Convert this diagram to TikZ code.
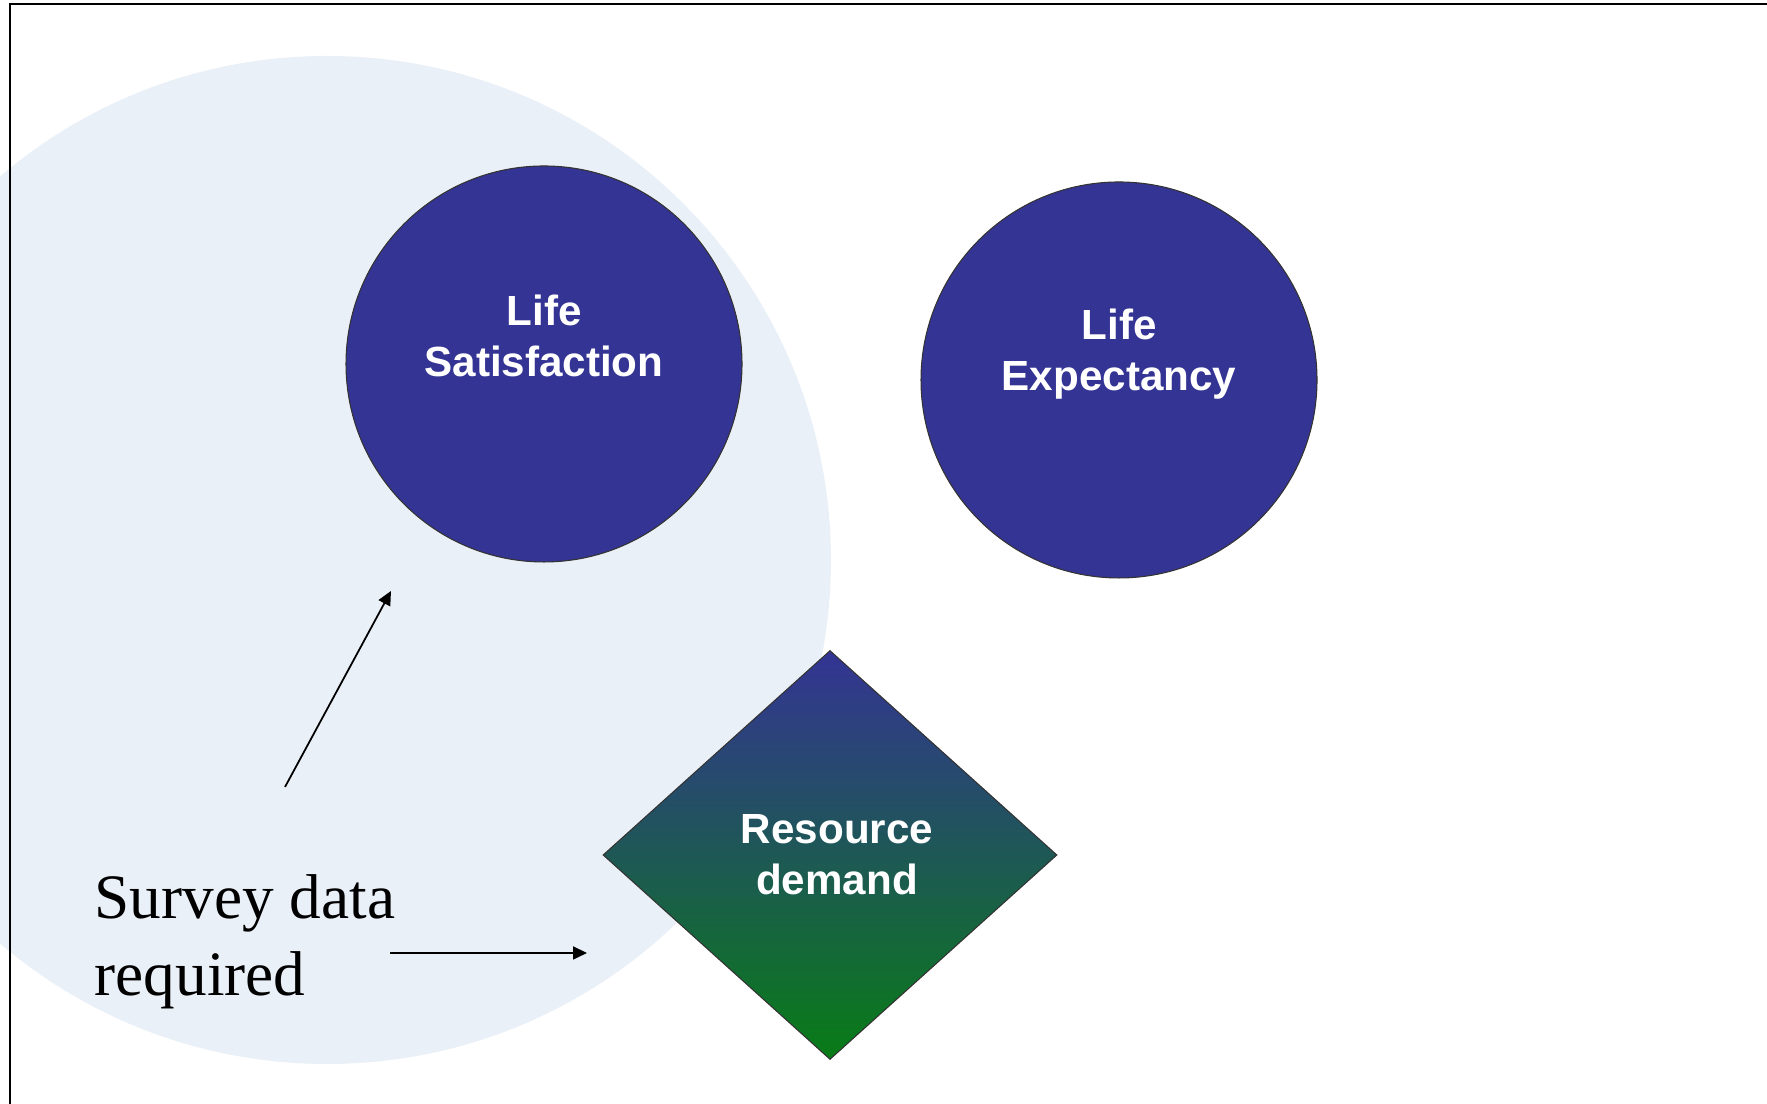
\documentclass[tikz,border=0pt]{standalone}
\usepackage{fontspec}
\setmainfont{Liberation Serif}
\setsansfont{Liberation Sans}
\usepackage{tikz}
\usetikzlibrary{shapes.geometric,arrows.meta}
\definecolor{lsnavy}{RGB}{52,52,148}
\definecolor{lsteal}{RGB}{38,98,114}
\definecolor{lsgreen}{RGB}{8,124,22}
\definecolor{lspale}{RGB}{234,240,247}

\tikzset{
  blob/.style={circle, draw=black!80, line width=0.3pt, fill=lsnavy, minimum size=3.96cm},
  lbl/.style={text=white, align=center, font=\sffamily\bfseries\fontsize{12}{14.5}\selectfont},
  arr/.style={-{Triangle[length=0.14cm,width=0.13cm]}, line width=0.5pt}
}

\begin{document}
\begin{tikzpicture}
\useasboundingbox (0,0) rectangle (17.67,11.04);
\begin{scope}
\clip (0,0) rectangle (17.67,11.04);
\fill[lspale] (3.27,5.44) circle (5.04);
\end{scope}
\draw[line width=0.6pt] (0.10,0) -- (0.10,11.00) -- (17.67,11.00);
\node[blob] (ls) at (5.44,7.40) {};
\node[blob] (le) at (11.19,7.24) {};
\node[lbl] (lstxt) at ([yshift=2.8mm]ls.center) {Life\\Satisfaction};
\node[lbl] (letxt) at ([yshift=2.6mm]le.center) {Life\\Expectancy};
\node[diamond, draw=black!80, line width=0.3pt, top color=lsnavy, middle color=lsteal, bottom color=lsgreen,
  minimum width=4.54cm, minimum height=4.09cm, inner sep=0pt] (rd) at (8.30,2.49) {};
\node[lbl] (rdtxt) at ([xshift=0.7mm]rd.center) {Resource\\demand};
\node[anchor=west, align=left, inner sep=0pt, font=\fontsize{18}{21.9}\selectfont] (survey) at (0.94,1.62) {Survey data\\required};
\coordinate (s1) at (2.85,3.17);
\coordinate (t1) at (3.91,5.13);
\coordinate (s2) at (3.90,1.51);
\coordinate (t2) at (5.87,1.51);
\draw[arr] (s1) -- (t1);
\draw[arr] (s2) -- (t2);
\end{tikzpicture}
\end{document}
